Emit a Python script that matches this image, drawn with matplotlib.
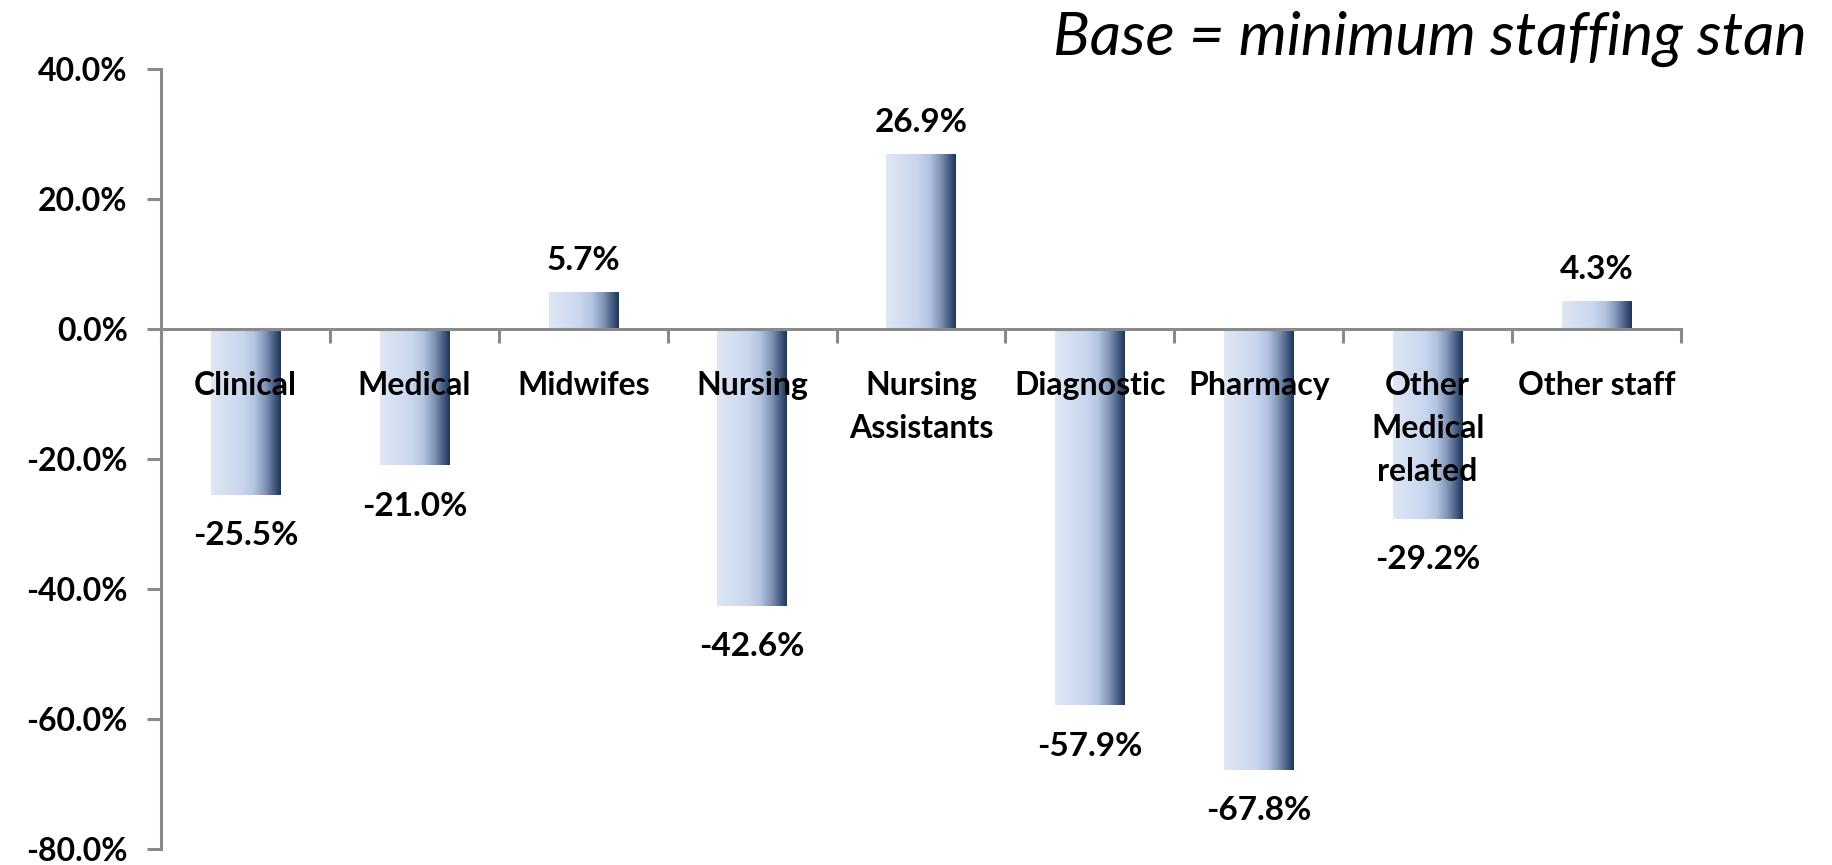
import numpy as np
import matplotlib
matplotlib.use("Agg")
import matplotlib.pyplot as plt
from matplotlib.colors import LinearSegmentedColormap

categories = ["Clinical", "Medical", "Midwifes", "Nursing", "Nursing\nAssistants",
              "Diagnostic", "Pharmacy", "Other\nMedical\nrelated", "Other staff"]
values = [-25.5, -21.0, 5.7, -42.6, 26.9, -57.9, -67.8, -29.2, 4.3]
yticks = [40, 20, 0, -20, -40, -60, -80]
title = "Base = minimum staffing stan"

plt.rcParams["font.family"] = ["Lato", "DejaVu Sans"]

grad = LinearSegmentedColormap.from_list(
    "bar", [(0.0, "#e0e7f4"), (0.45, "#c8d6ee"), (0.62, "#b3c4e2"),
            (0.78, "#8194b6"), (0.9, "#4a5f84"), (1.0, "#1c355c")])

fig = plt.figure(figsize=(18.32, 8.65), dpi=100)
ax = fig.add_axes([161 / 1832, 1 - 849 / 865, 1520 / 1832, 780 / 865])
ax.set_axisbelow(False)

x = np.arange(len(categories))
bars = ax.bar(x, values, width=0.41, color="none", edgecolor="none")
g = np.linspace(0, 1, 256).reshape(1, -1)
for b in bars:
    x0, y0 = b.get_x(), b.get_y()
    im = ax.imshow(g, cmap=grad, aspect="auto", interpolation="bilinear",
                   extent=[x0, x0 + b.get_width(), y0, y0 + b.get_height()], zorder=2)
    im.set_clip_path(b)

for xi, v in zip(x, values):
    if v >= 0:
        ax.annotate(f"{v:.1f}%", (xi, v), xytext=(0, 12), textcoords="offset points",
                    ha="center", va="bottom", fontsize=24, fontweight="bold", zorder=4)
    else:
        ax.annotate(f"{v:.1f}%", (xi, v), xytext=(0, -19), textcoords="offset points",
                    ha="center", va="top", fontsize=24, fontweight="bold", zorder=4)

ax.set_xlim(-0.5, len(categories) - 0.5)
ax.set_ylim(-80, 40)

axis_c = "#8a8a8a"
for s in ["top", "right"]:
    ax.spines[s].set_visible(False)
ax.spines["bottom"].set_position(("data", 0))
ax.spines["left"].set_color(axis_c)
ax.spines["bottom"].set_color(axis_c)
ax.spines["left"].set_linewidth(2.2)
ax.spines["bottom"].set_linewidth(2.2)

ax.set_yticks(yticks)
ax.set_yticklabels([f"{t:.1f}%" for t in yticks], fontsize=23, fontweight="bold")
ax.tick_params(axis="y", length=10, width=2.2, color=axis_c, pad=14)

ax.set_xticks(np.arange(len(categories) + 1) - 0.5)
ax.set_xticklabels([])
ax.tick_params(axis="x", which="major", length=10, width=2.2, color=axis_c)
ax.set_xticks(x, minor=True)
ax.set_xticklabels(categories, minor=True, fontsize=23, fontweight="bold", linespacing=1.6)
ax.tick_params(axis="x", which="minor", length=0, pad=30)

fig.text(1807 / 1832, 1 - 55 / 865, title, ha="right", va="baseline",
         fontsize=44, fontstyle="italic")

fig.savefig("out.png", dpi=100)
